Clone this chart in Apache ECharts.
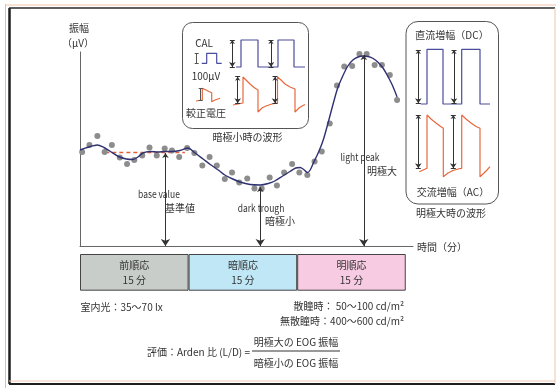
<!DOCTYPE html>
<html>
<head>
<meta charset="utf-8">
<script src="https://cdn.jsdelivr.net/npm/echarts@6/dist/echarts.min.js"></script>
<style>
html,body{margin:0;padding:0;background:#fff;}
#c{width:559px;height:390px;}
</style>
</head>
<body>
<div id="c"></div>
<script>
// ---- main EOG trace (time in minutes, amplitude in arbitrary μV units) ----
const pointTimes = [0.3,1.3,2.4,3.4,4.4,5.5,6.5,7.5,8.6,9.6,10.6,11.7,12.7,13.7,14.8,15.8,16.9,17.9,18.9,20.0,21.0,22.0,23.1,24.1,25.1,26.2,27.2,28.2,29.3,30.3,31.4,32.4,33.4,34.5,35.5,36.5,37.6,38.6,39.6,40.7,41.7,42.8,43.8];
const pointAmps  = [94,101,110,94,101,88.5,82,86,90.5,98.5,90.5,97.5,95.5,89,98,93,80.5,89,80.5,67,73.5,63.5,67.5,57.5,57.5,68.5,60.5,73.5,82,73.5,71,84.5,94.5,122.5,160.5,179.5,180,192,192,181,181,171,146];

const fitTimes = [0,1.2,2.4,3.3,4.1,5.3,6.4,7.3,8.0,8.7,9.7,10.8,11.7,12.7,13.8,14.9,15.9,17.0,18.0,19.1,20.0,21.1,22.1,23.5,24.9,26.0,26.9,28.0,29.0,29.8,30.4,30.9,31.4,31.8,32.3,32.9,33.6,34.3,35.0,35.6,36.3,37.0,37.7,38.4,39.1,39.8,40.5,41.2,41.9,42.5,43.2,43.8];
const fitAmps  = [96,99,101,98.5,95,89.5,87,86.5,89,93,94.5,94,94.5,94.5,95.5,98,93,87,81.5,76,71,67,64,61.5,61,62.5,65,70,74.5,78,78.5,76.5,73.5,76,84,93,106,124,143,158,170,180,186,189,190,189.5,187.5,183.5,177.5,170,160,149];

const baseValue = 93.5;
const baseSpan = [3.5, 14.5];
// [time, top amplitude] of the three measured points
const baseMark   = [11.8, 93];
const troughMark = [24.9, 59];
const peakMark   = [39.2, 191];

// ---- adaptation phases ----
const phaseNames = ['前順応','暗順応','明順応'];
const phaseMinutes = [15,15,15];

// ---- inset: waveform at dark trough (inset units) ----
const darkDC = [[46,49],[51,49],[51,76],[68,76],[68,49],[88,49],[88,76],[104,76],[104,49],[115,49]];
const darkAC = [[43,11],[53,13],[53,39],[56,36],[60,32],[64,28.5],[68,26],[68,4],[72,8],[76,10],[82,12],[87.5,13],[87.5,39],[91,36],[95,32],[100,29],[105,27],[105,4],[109,8],[112,10],[115,11.5]];
const calDC = [[11.7,52.7],[16.7,52.7],[16.7,62.7],[26.7,62.7],[26.7,52.7],[31.7,52.7]];
const calAC = [[6,15],[12.3,16],[12.3,27.7],[15,26.5],[18,25],[21.7,23.3],[21.7,14.3],[25,16],[30,17.7]];
const darkArrows = [[42.3,76,49],[81,76,49],[47.7,39.3,12.7],[85,39.3,12.7]];
const calBars = [[6.7,62.7,52.7],[10.7,27.7,16]];

// ---- inset: waveform at light peak (inset units) ----
const lightDC = [[5.7,76],[12,76],[12,130.7],[28,130.7],[28,76],[46.7,76],[46.7,130.7],[65,130.7],[65,76],[75,76]];
const lightAC = [[4.3,8.3],[12,11.7],[12,65],[16,61],[21,57],[25,54],[28.3,51.7],[28.3,3.3],[33,7],[38,9.5],[43,11],[46.7,11.7],[46.7,65],[51,61],[56,57],[61,53.5],[65,51.7],[65,3.3],[69,7],[72,10],[75,13.3]];
const lightArrows = [[3.3,130,76.7],[39,130,76.7],[3.3,65,11.7],[38.3,65,11.7]];

// ---------------------------------------------------------------
const FONT = "'Noto Sans CJK JP',sans-serif";
const TXT = '#333';
const BLUE = '#4a4c9c';
const ORANGE = '#e8683c';

const chart = echarts.init(document.getElementById('c'), null, {renderer:'canvas'});

function zip(a,b){ return a.map((v,i)=>[v,b[i]]); }
function arrowSeries(list, xi, size){
  return {
    type:'lines', coordinateSystem:'cartesian2d', xAxisIndex:xi, yAxisIndex:xi,
    symbol:['arrow','arrow'], symbolSize:size, silent:true, z:5,
    lineStyle:{color:'#333', width:1, opacity:1},
    data: list.map(a=>({coords:[[a[0],a[1]],[a[0],a[2]]]}))
  };
}
function capSeries(list, xi, half){
  const d = [];
  list.forEach(a=>{
    d.push({coords:[[a[0]-half,a[1]],[a[0]+half,a[1]]]});
    d.push({coords:[[a[0]-half,a[2]],[a[0]+half,a[2]]]});
  });
  return {type:'lines', coordinateSystem:'cartesian2d', xAxisIndex:xi, yAxisIndex:xi,
    symbol:'none', silent:true, z:5, lineStyle:{color:'#333', width:1, opacity:1}, data:d};
}
function vbarSeries(list, xi, half){
  const d = [];
  list.forEach(a=>{
    d.push({coords:[[a[0],a[1]],[a[0],a[2]]]});
    d.push({coords:[[a[0]-half,a[1]],[a[0]+half,a[1]]]});
    d.push({coords:[[a[0]-half,a[2]],[a[0]+half,a[2]]]});
  });
  return {type:'lines', coordinateSystem:'cartesian2d', xAxisIndex:xi, yAxisIndex:xi,
    symbol:'none', silent:true, z:5, lineStyle:{color:'#555', width:1, opacity:1}, data:d};
}
function wave(data, xi, color){
  return {type:'line', xAxisIndex:xi, yAxisIndex:xi, data:data, symbol:'none', silent:true,
    lineStyle:{color:color, width:1.2}, z:4};
}
function T(text, x, y, align, size, sx){
  return {type:'text', x:x, y:y, z:100, silent:true, scaleX:sx||1, originX:0, originY:0,
    style:{text:text, fill:TXT, font:(size||10)+'px '+FONT, align:align||'center', verticalAlign:'middle'}};
}
function L(x1,y1,x2,y2,color,w){
  return {type:'line', silent:true, z:90, shape:{x1,y1,x2,y2}, style:{stroke:color, lineWidth:w}};
}

const hidden = {show:false};
const option = {
  animation:false,
  backgroundColor:'#fff',
  grid:[
    {left:80, right:146, top:52, bottom:144},
    {left:80, right:146, top:254, height:36.7},
    {left:190, top:36, width:118, height:80},
    {left:415, top:45, width:80, height:135}
  ],
  xAxis:[
    {gridIndex:0, type:'value', min:0, max:46, axisLine:{show:true, lineStyle:{color:'#666', width:1}}, axisTick:hidden, axisLabel:hidden, splitLine:hidden},
    {gridIndex:1, type:'value', min:0, max:46, show:false},
    {gridIndex:2, type:'value', min:0, max:118, show:false},
    {gridIndex:3, type:'value', min:0, max:80, show:false}
  ],
  yAxis:[
    {gridIndex:0, type:'value', min:0, max:194, axisLine:{show:true, lineStyle:{color:'#666', width:1}}, axisTick:hidden, axisLabel:hidden, splitLine:hidden},
    {gridIndex:1, type:'category', data:['phase'], show:false},
    {gridIndex:2, type:'value', min:0, max:80, show:false},
    {gridIndex:3, type:'value', min:0, max:135, show:false}
  ],
  series:[
    {type:'line', data:[[baseSpan[0],baseValue],[baseSpan[1],baseValue]], symbol:'none', silent:true,
      lineStyle:{color:'#e4603a', width:1.3, type:[4,3]}, z:2},
    {type:'scatter', data:zip(pointTimes,pointAmps), symbolSize:6, silent:true,
      itemStyle:{color:'#8d8d8d', opacity:1}, z:3},
    {type:'line', data:zip(fitTimes,fitAmps), smooth:0.3, symbol:'none', silent:true,
      lineStyle:{color:'#2f3170', width:1.4}, z:4},
    arrowSeries([[baseMark[0],baseMark[1],0],[troughMark[0],troughMark[1],0],[peakMark[0],peakMark[1],0]], 0, [5,7]),
    ...phaseNames.map((n,i)=>({
      type:'bar', xAxisIndex:1, yAxisIndex:1, stack:'phase', data:[phaseMinutes[i]], barWidth:'100%', silent:true,
      itemStyle:{color:['#c8cdc9','#bfe7f6','#f7cbe2'][i], borderColor:'#444', borderWidth:1},
      label:{show:true, position:'inside', formatter:n+'\n'+phaseMinutes[i]+' 分', color:TXT, fontSize:10, lineHeight:15, fontFamily:FONT}
    })),
    wave(darkDC, 2, BLUE),
    wave(darkAC, 2, ORANGE),
    wave(calDC, 2, BLUE),
    wave(calAC, 2, ORANGE),
    arrowSeries(darkArrows, 2, [4,5]),
    capSeries(darkArrows, 2, 2.5),
    vbarSeries(calBars, 2, 2),
    wave(lightDC, 3, BLUE),
    wave(lightAC, 3, ORANGE),
    arrowSeries(lightArrows, 3, [4,5]),
    capSeries(lightArrows, 3, 2.5)
  ],
  graphic:[
    // page frame
    L(5.5,4,5.5,388,'#f2b890',1),
    L(5,5,556,5,'#f2c4a6',1),
    L(9.5,8,9.5,384,'#1e1e1e',2.5),
    L(9,8,555,8,'#2a2a2a',1.5),
    L(9,384,555,384,'#1e1e1e',2),
    L(9,381,555,381,'#f0c8b0',1),
    L(555,8,555,384,'#e6c8b4',1),
    // insets
    {type:'rect', silent:true, z:1, shape:{x:182.5, y:22.5, width:126, height:106, r:10}, style:{fill:'none', stroke:'#555', lineWidth:1}},
    {type:'rect', silent:true, z:1, shape:{x:406, y:21.5, width:92.5, height:182.5, r:12}, style:{fill:'none', stroke:'#555', lineWidth:1}},
    // axis titles
    T('振幅', 79, 28, 'center', 10),
    T('（μV）', 78, 43, 'center', 10),
    T('時間（分）', 417, 247, 'left', 10),
    // annotations
    T('base value', 159, 194, 'center', 10, 0.85),
    T('基準値', 180, 208, 'center', 10),
    T('dark trough', 261, 208, 'center', 10, 0.85),
    T('暗極小', 280, 221, 'center', 10),
    T('light peak', 360, 157, 'center', 10, 0.85),
    T('明極大', 382, 171, 'center', 10),
    T('暗極小時の波形', 247.5, 137, 'center', 10),
    T('CAL', 204, 43, 'center', 11, 0.9),
    T('100μV', 206, 76, 'center', 11, 0.9),
    T('較正電圧', 206, 113, 'center', 10),
    T('直流増幅（DC）', 452, 35, 'center', 10),
    T('交流増幅（AC）', 453, 192, 'center', 10),
    T('明極大時の波形', 451, 213, 'center', 10),
    // notes
    T('室内光：35～70 lx', 80.5, 307, 'left', 10),
    T('散瞳時： 50～100 cd/m²', 404, 306, 'right', 10),
    T('無散瞳時：400～600 cd/m²', 404, 321, 'right', 10),
    T('評価：Arden 比 (L/D) =', 147, 352, 'left', 10),
    T('明極大の EOG 振幅', 296, 342, 'center', 10),
    L(252,351,340,351,'#333',1),
    T('暗極小の EOG 振幅', 296, 363, 'center', 10)
  ]
};
chart.setOption(option);
</script>
</body>
</html>
